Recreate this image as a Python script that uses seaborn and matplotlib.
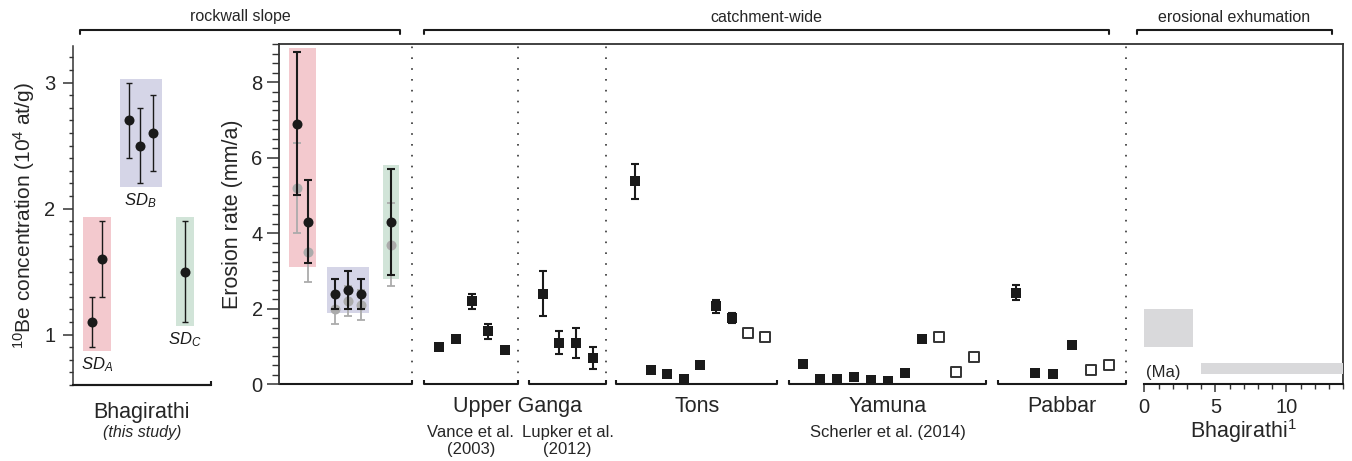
import numpy as np
import pandas as pd
import matplotlib
matplotlib.use('Agg')
import matplotlib.pyplot as plt
from matplotlib.lines import Line2D
from matplotlib.ticker import MultipleLocator
import seaborn as sns

sns.set_style('ticks')
plt.rcParams['font.family'] = ['Liberation Sans', 'DejaVu Sans']
plt.rcParams['mathtext.fontset'] = 'custom'
plt.rcParams['mathtext.rm'] = 'Liberation Sans'
plt.rcParams['mathtext.it'] = 'Liberation Sans:italic'

# --- 10Be concentrations of rockwall sites (this study), 10^4 at/g
be_site = ['A', 'A', 'B', 'B', 'B', 'C']
be_conc = [1.1, 1.6, 2.7, 2.5, 2.6, 1.5]
be_err = [0.2, 0.3, 0.3, 0.3, 0.3, 0.4]

# --- rockwall erosion rates (mm/a): black = main, grey = alternative
rw_rate = [6.9, 4.3, 2.4, 2.5, 2.4, 4.3]
rw_lo = [5.0, 3.2, 2.0, 2.0, 2.0, 2.9]
rw_hi = [8.8, 5.4, 2.8, 3.0, 2.8, 5.7]
rw_alt = [5.2, 3.5, 2.0, 2.2, 2.1, 3.7]
rw_alt_lo = [4.0, 2.7, 1.6, 1.8, 1.7, 2.6]
rw_alt_hi = [6.4, 4.3, 2.4, 2.6, 2.5, 4.8]

# --- catchment-wide erosion rates (mm/a)
vance_rate = [1.0, 1.2, 2.2, 1.4, 0.9]
vance_err = [0.08, 0.0, 0.2, 0.2, 0.08]
lupker_rate = [2.4, 1.1, 1.1, 0.7]
lupker_err = [0.6, 0.3, 0.4, 0.3]
tons_rate = [5.37, 0.39, 0.28, 0.15, 0.52, 2.06, 1.76, 1.37, 1.24]
tons_err = [0.46, 0, 0, 0, 0, 0.17, 0.14, 0, 0]
tons_open = [0, 0, 0, 0, 0, 0, 0, 1, 1]
yamuna_rate = [0.55, 0.15, 0.15, 0.20, 0.12, 0.08, 0.31, 1.21, 1.25, 0.32, 0.71]
yamuna_err = [0, 0, 0, 0, 0, 0, 0, 0, 0, 0, 0]
yamuna_open = [0, 0, 0, 0, 0, 0, 0, 0, 1, 1, 1]
pabbar_rate = [2.43, 0.30, 0.27, 1.04, 0.38, 0.50]
pabbar_err = [0.2, 0, 0, 0, 0, 0]
pabbar_open = [0, 0, 0, 0, 1, 1]

# --- erosional exhumation, Bhagirathi (Ma vs mm/a)
exh_start = [0.0, 4.0]
exh_end = [3.4, 14.0]
exh_low = [1.0, 0.28]
exh_high = [2.0, 0.56]

BLACK = '#1a1a1a'
GREY = '#ababab'
site_colors = {'A': '#f3c9ce', 'B': '#d5d5e7', 'C': '#d1e4d8'}

W, H = 1352, 461
fig = plt.figure(figsize=(W / 100, H / 100), dpi=100)


def px_axes(x0, y0, x1, y1):
    return fig.add_axes([x0 / W, 1 - y1 / H, (x1 - x0) / W, (y1 - y0) / H])


def bracket(ax, x0, x1, trans, h=0.013, left=True, right=True, y=0.0):
    xs, ys = [x0, x1], [y, y]
    if left:
        xs, ys = [x0] + xs, [y + h] + ys
    if right:
        xs, ys = xs + [x1], ys + [y + h]
    ax.plot(xs, ys, transform=trans, clip_on=False, color=BLACK, lw=1.5,
            solid_capstyle='butt')


def style_ticks(ax, lmaj, lmin, pad):
    ax.tick_params(axis='both', which='major', length=lmaj, width=1.1,
                   labelsize=14.5, pad=pad, color='#333')
    ax.tick_params(axis='both', which='minor', length=lmin, width=1.0, color='#333')


axL = px_axes(72.7, 46, 210.7, 385)
ax = px_axes(279.3, 44.3, 1343.3, 384.3)
axX = px_axes(1144.3, 44.3, 1343.3, 384.3)

# ================= left panel: 10Be concentration =================
be = pd.DataFrame({'site': be_site, 'conc': be_conc, 'err': be_err})
be['pos'] = [1.73, 2.66, 5.12, 6.12, 7.3, 10.2]
for site, g in be.groupby('site'):
    x0, x1 = g['pos'].min() - 0.8, g['pos'].max() + 0.8
    lo = (g['conc'] - g['err']).min() - 0.03
    hi = (g['conc'] + g['err']).max() + 0.03
    axL.fill_between([x0, x1], lo, hi, color=site_colors[site], lw=0, zorder=0)
    axL.text(g['pos'].mean(), lo - 0.11, r'$SD_{%s}$' % site, ha='center',
             va='center', fontsize=12, color=BLACK)
axL.errorbar(be['pos'], be['conc'], yerr=be['err'], fmt='none', ecolor=BLACK,
             elinewidth=1.0, capsize=2.2, capthick=1.0, zorder=3)
sns.scatterplot(data=be, x='pos', y='conc', ax=axL, color=BLACK, s=52,
                linewidth=0, zorder=4)
axL.set_xlim(0, 12.55)
axL.set_ylim(0.6, 3.29)
axL.yaxis.set_major_locator(MultipleLocator(1))
axL.yaxis.set_minor_locator(MultipleLocator(0.1))
axL.set_xticks([])
style_ticks(axL, 7.5, 3.2, 5)
for s in ['top', 'right']:
    axL.spines[s].set_visible(False)
axL.spines['left'].set_linewidth(1.1)
axL.spines['left'].set_color('#333')
axL.spines['bottom'].set_linewidth(1.5)
axL.spines['bottom'].set_color(BLACK)
bracket(axL, 0, 1, axL.transAxes, left=False)
axL.set_xlabel('')
axL.set_ylabel(r'$^{10}$Be concentration (10$^{4}$ at/g)', fontsize=15, labelpad=5)
axL.text(0.5, -0.08, 'Bhagirathi', transform=axL.transAxes, ha='center',
         va='center', fontsize=15.5)
axL.text(0.5, -0.14, '(this study)', transform=axL.transAxes, ha='center',
         va='center', fontsize=11.5, style='italic')

# ================= main panel: erosion rates =================
rw = pd.DataFrame({'site': be_site, 'rate': rw_rate, 'lo': rw_lo, 'hi': rw_hi,
                   'alt': rw_alt, 'alt_lo': rw_alt_lo, 'alt_hi': rw_alt_hi})
rw['pos'] = [1.05, 1.71, 3.32, 4.09, 4.86, 6.65]
for site, g in rw.groupby('site'):
    ax.fill_between([g['pos'].min() - 0.5, g['pos'].max() + 0.5],
                    g['lo'].min() - 0.1, g['hi'].max() + 0.1,
                    color=site_colors[site], lw=0, zorder=0)
ax.errorbar(rw['pos'], rw['alt'], yerr=[rw['alt'] - rw['alt_lo'], rw['alt_hi'] - rw['alt']],
            fmt='none', ecolor=GREY, elinewidth=1.3, capsize=2.6, capthick=1.3, zorder=1)
sns.scatterplot(data=rw, x='pos', y='alt', ax=ax, color=GREY, s=52, linewidth=0, zorder=2)
ax.errorbar(rw['pos'], rw['rate'], yerr=[rw['rate'] - rw['lo'], rw['hi'] - rw['rate']],
            fmt='none', ecolor=BLACK, elinewidth=1.5, capsize=2.6, capthick=1.5, zorder=3)
sns.scatterplot(data=rw, x='pos', y='rate', ax=ax, color=BLACK, s=52, linewidth=0, zorder=4)

# catchment groups: (rates, errors, open flags, first slot, slot step)
groups = [
    ('Vance', vance_rate, vance_err, [0] * len(vance_rate), 9.51, 0.98),
    ('Lupker', lupker_rate, lupker_err, [0] * len(lupker_rate), 15.68, 0.99),
    ('Tons', tons_rate, tons_err, tons_open, 21.17, 0.965),
    ('Yamuna', yamuna_rate, yamuna_err, yamuna_open, 31.17, 1.015),
    ('Pabbar', pabbar_rate, pabbar_err, pabbar_open, 43.85, 1.11),
]
frames = []
for name, rate, err, op, start, step in groups:
    frames.append(pd.DataFrame({'study': name, 'rate': rate, 'err': err,
                                'open': np.array(op, dtype=bool),
                                'pos': start + step * np.arange(len(rate))}))
cat = pd.concat(frames, ignore_index=True)
we = cat[cat['err'] > 0]
ax.errorbar(we['pos'], we['rate'], yerr=we['err'], fmt='none', ecolor=BLACK,
            elinewidth=1.5, capsize=2.6, capthick=1.5, zorder=3)
sns.scatterplot(data=cat[~cat['open']], x='pos', y='rate', ax=ax, marker='s',
                color=BLACK, s=50, linewidth=0, zorder=4)
sns.scatterplot(data=cat[cat['open']], x='pos', y='rate', ax=ax, marker='s',
                color='white', edgecolor='#333333', s=42, linewidth=1.4, zorder=4)

ax.set_xlim(0, 63.33)
ax.set_ylim(0, 9)
ax.yaxis.set_major_locator(MultipleLocator(2))
ax.yaxis.set_minor_locator(MultipleLocator(0.25))
ax.set_xticks([])
style_ticks(ax, 8.5, 5, 3.5)
ax.spines['bottom'].set_visible(False)
for s in ['top', 'left', 'right']:
    ax.spines[s].set_linewidth(1.3)
    ax.spines[s].set_color('#333')
ax.set_xlabel('')
ax.set_ylabel('Erosion rate (mm/a)', fontsize=15.5, labelpad=6)

for xs in [7.92, 14.19, 19.45, 50.38]:
    ax.axvline(xs, ls=(0, (1, 5.5)), lw=1.2, color='#333', zorder=1)

tr = ax.get_xaxis_transform()
bracket(ax, 0, 7.92, tr, left=False)
spans = [(8.61, 14.19), (14.86, 19.45), (20.05, 29.64), (30.36, 42.04), (42.78, 50.38)]
for x0, x1 in spans:
    bracket(ax, x0, x1, tr)

ax.text(14.19, -0.066, 'Upper Ganga', transform=tr, ha='center', va='center', fontsize=15.5)
ax.text(sum(spans[0]) / 2, -0.12, 'Vance et al.\n(2003)', transform=tr, ha='center',
        va='top', fontsize=12, linespacing=1.15)
ax.text(sum(spans[1]) / 2, -0.12, 'Lupker et al.\n(2012)', transform=tr, ha='center',
        va='top', fontsize=12, linespacing=1.15)
ax.text(sum(spans[2]) / 2, -0.066, 'Tons', transform=tr, ha='center', va='center', fontsize=15.5)
ax.text(sum(spans[3]) / 2, -0.066, 'Yamuna', transform=tr, ha='center', va='center', fontsize=15.5)
ax.text(sum(spans[3]) / 2, -0.12, 'Scherler et al. (2014)', transform=tr, ha='center',
        va='top', fontsize=12)
ax.text(sum(spans[4]) / 2, -0.066, 'Pabbar', transform=tr, ha='center', va='center', fontsize=15.5)

# ================= exhumation panel =================
axX.patch.set_alpha(0)
axX.bar(exh_start, np.subtract(exh_high, exh_low), width=np.subtract(exh_end, exh_start),
        bottom=exh_low, align='edge', color='#d9d9db', lw=0, zorder=0)
axX.set_xlim(0, 14)
axX.set_ylim(0, 9)
axX.xaxis.set_major_locator(MultipleLocator(5))
axX.xaxis.set_minor_locator(MultipleLocator(1))
axX.set_yticks([])
style_ticks(axX, 6, 3.5, 4)
for s in ['top', 'left', 'right']:
    axX.spines[s].set_visible(False)
axX.spines['bottom'].set_linewidth(1.5)
axX.spines['bottom'].set_color(BLACK)
axX.text(0.15, 0.12, '(Ma)', ha='left', va='bottom', fontsize=12)
axX.set_xlabel(r'Bhagirathi$^{1}$', fontsize=15.5, labelpad=0)

# ================= top brackets =================
top_groups = [('rockwall slope', 80, 400), ('catchment-wide', 424, 1109),
              ('erosional exhumation', 1137, 1332)]
for label, x0, x1 in top_groups:
    y, d = 1 - 30 / H, 4 / H
    fig.add_artist(Line2D([x0 / W, x0 / W, x1 / W, x1 / W], [y - d, y, y, y - d],
                          transform=fig.transFigure, color=BLACK, lw=1.5))
    fig.text((x0 + x1) / 2 / W, 1 - 17 / H, label, ha='center', va='center', fontsize=11.5)

fig.savefig('out.png', dpi=100)
